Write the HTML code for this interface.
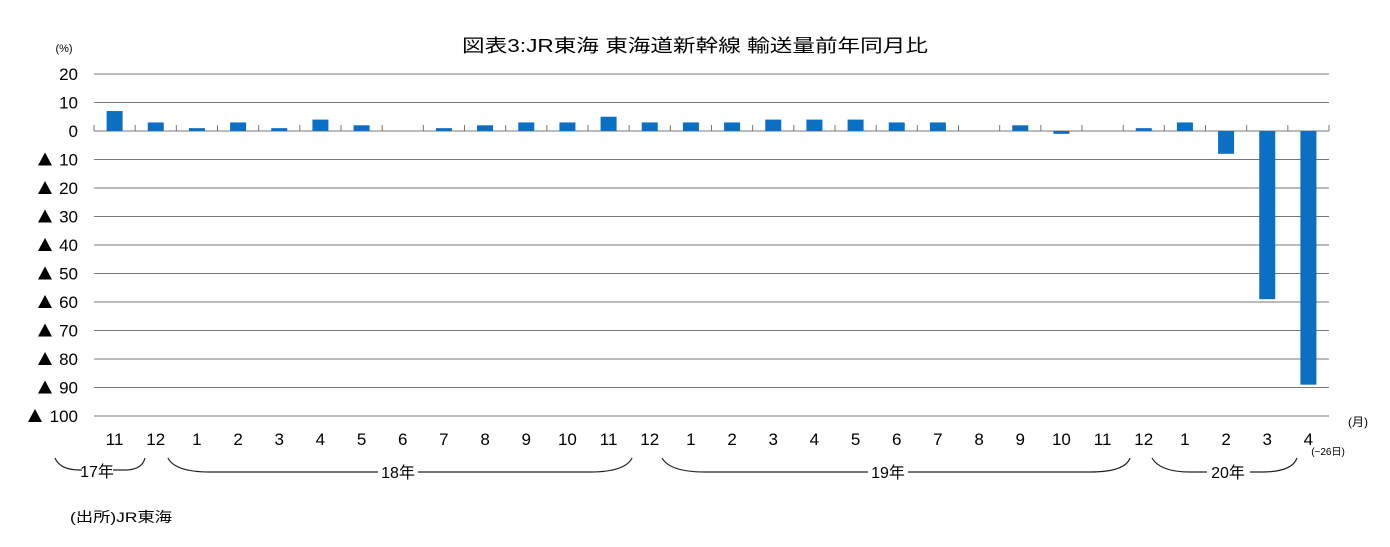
<!DOCTYPE html>
<html><head><meta charset="utf-8"><style>
body{margin:0;background:#fff}
text{font-family:"Liberation Sans","Noto Sans CJK JP",sans-serif;fill:#000}
</style></head><body>
<svg width="1390" height="542" xmlns="http://www.w3.org/2000/svg">
<text x="462" y="52" font-size="18" textLength="466" lengthAdjust="spacingAndGlyphs">図表3:JR東海 東海道新幹線 輸送量前年同月比</text>
<text x="64" y="52" font-size="11" text-anchor="middle">(%)</text>
<g id="grid" stroke="#777" stroke-width="1"></g>
<g id="bars" fill="#0b6fc4"></g>
<g id="lab" font-size="17"></g>
<text x="1358" y="426" font-size="12" text-anchor="middle">(月)</text>
<text x="1328" y="455" font-size="10" text-anchor="middle">(~26日)</text>
<g fill="none" stroke="#222" stroke-width="1.2">
<path d="M55,458 Q60,470 80,470 L82,470 M113,470 L125,470 Q142,470 145,458"/>
<path d="M168,458 Q175,472 210,472 L378,472 M418,472 L590,472 Q625,472 632,458"/>
<path d="M662,458 Q670,472 705,472 L868,472 M908,472 L1090,472 Q1125,472 1130,458"/>
<path d="M1152,458 Q1160,472 1190,472 L1207,472 M1250,472 L1262,472 Q1292,472 1297,458"/>
</g>
<g font-size="16" text-anchor="middle">
<text x="97" y="477">17年</text><text x="398" y="478">18年</text><text x="888" y="478">19年</text><text x="1228" y="478">20年</text>
</g>
<text x="70" y="522" font-size="14" textLength="102" lengthAdjust="spacingAndGlyphs">(出所)JR東海</text>
</svg>
<script>
const ns="http://www.w3.org/2000/svg";
const g=document.getElementById('grid'),b=document.getElementById('bars'),l=document.getElementById('lab');
function el(p,t,a,txt){const e=document.createElementNS(ns,t);for(const k in a)e.setAttribute(k,a[k]);if(txt!==undefined)e.textContent=txt;p.appendChild(e);return e;}
const x0=94,x1=1329,y0=131,s=2.85;
for(let v=20;v>=-100;v-=10){const y=y0-v*s;el(g,'line',{x1:x0,x2:x1,y1:y,y2:y});
 el(l,'text',{x:78,y:y+6,'text-anchor':'end'},String(Math.abs(v)));
 if(v<0){const tx=v==-100?28:38;el(l,'polygon',{points:`${tx},${y+6} ${tx+14},${y+6} ${tx+7},${y-7}`,fill:'#000'});}}
const cats=[11,12,1,2,3,4,5,6,7,8,9,10,11,12,1,2,3,4,5,6,7,8,9,10,11,12,1,2,3,4];
const vals=[7,3,1,3,1,4,2,0,1,2,3,3,5,3,3,3,4,4,4,3,3,0,2,-1,0,1,3,-8,-59,-89];
const w=(x1-x0)/30;
for(let i=0;i<=30;i++){const x=x0+i*w;el(g,'line',{x1:x,x2:x,y1:y0-6,y2:y0});}
cats.forEach((c,i)=>{const cx=x0+(i+.5)*w;el(l,'text',{x:cx,y:445,'text-anchor':'middle'},c);
 const v=vals[i];if(v!==0){const h=Math.abs(v)*s;el(b,'rect',{x:cx-8,y:v>0?y0-h:y0,width:16,height:h});}});
</script>
</body></html>
